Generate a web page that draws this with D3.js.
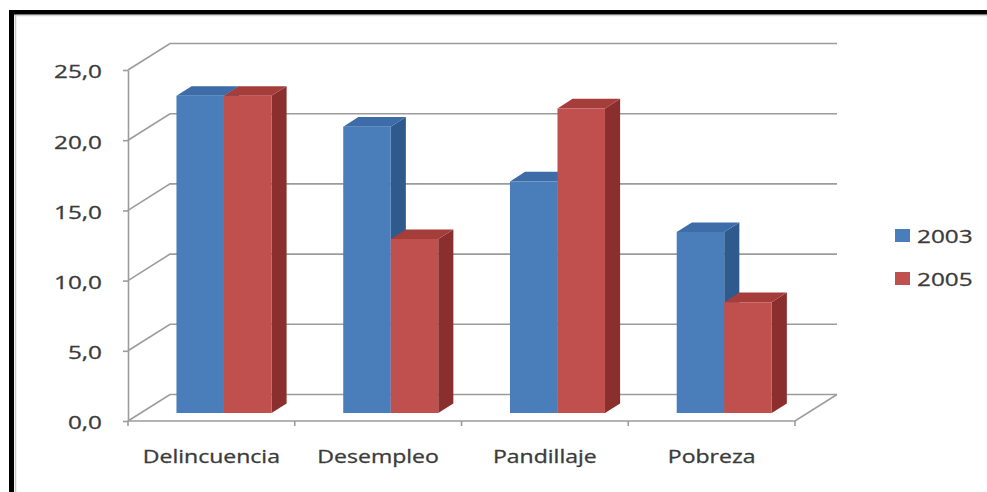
<!DOCTYPE html>
<html>
<head>
<meta charset="utf-8">
<script src="https://cdn.jsdelivr.net/npm/d3@7"></script>
<style>
  html, body { margin: 0; padding: 0; background: #fff; }
  svg { display: block; }
  text { font-family: "Open Sans", "Noto Sans", sans-serif; fill: #3b3b3b; stroke: #3b3b3b; stroke-width: 0.3px; }
</style>
</head>
<body>
<svg id="chart" width="987" height="492"></svg>
<script>
// Chart data
const categories = ["Delincuencia", "Desempleo", "Pandillaje", "Pobreza"];
const series = ["2003", "2005"];
const values2003 = [22.6, 20.4, 16.5, 12.9];
const values2005 = [22.6, 12.4, 21.7, 7.9];
const yTicks = [0, 5, 10, 15, 20, 25];

const seriesValues = { "2003": values2003, "2005": values2005 };
const colors = {
  "2003": { front: "#4a7ebb", side: "#2f5a8d", top: "#3d6ca8" },
  "2005": { front: "#c0504d", side: "#8a2f2d", top: "#a53d3a" }
};

const svg = d3.select("#chart");
const W = 987, H = 492;

// Front plane of the 3D box and its depth offset
const left = 128, right = 795, floorY = 421, topY = 70;
const depthDX = 42, depthDY = -26.5;
const barT0 = 0.3, barT1 = 0.66;  // bar depth span within the box
const stretch = 1.28;            // horizontal stretch of text

const y = d3.scaleLinear().domain([0, 25]).range([floorY, topY]);
const x = d3.scaleBand().domain(categories).range([left, right]).padding(0);
const xs = d3.scaleBand().domain(series).range([0, x.bandwidth()])
  .paddingInner(0).paddingOuter(0.755);

const P = (px, v, t) => [px + depthDX * t, y(v) + depthDY * t];
const fmt = d3.formatLocale({ decimal: ",", thousands: ".", grouping: [3], currency: ["", ""] }).format(".1f");

// Frame
svg.append("rect").attr("x", 0).attr("y", 0).attr("width", W).attr("height", H).attr("fill", "#fff");
svg.append("line").attr("x1", 14).attr("x2", W).attr("y1", 15.5).attr("y2", 15.5)
  .attr("stroke", "#d6d6d6").attr("stroke-width", 1.5);
svg.append("line").attr("x1", 15.5).attr("x2", 15.5).attr("y1", 14).attr("y2", H)
  .attr("stroke", "#c8c8c8").attr("stroke-width", 1.5);
svg.append("rect").attr("x", 9).attr("y", 10).attr("width", W - 9).attr("height", 4.5).attr("fill", "#000");
svg.append("rect").attr("x", 9).attr("y", 10).attr("width", 5).attr("height", H - 10).attr("fill", "#000");

const grid = svg.append("g").attr("stroke", "#9c9c9c").attr("stroke-width", 1.6).attr("fill", "none");

// Gridlines on back wall plus diagonals on side wall
yTicks.forEach(v => {
  const a = P(left, v, 0), b = P(left, v, 1), c = P(right, v, 1);
  grid.append("path").attr("d", d3.line()([a, b, c]));
});
// Floor edges
grid.append("path").attr("d", d3.line()([P(left, 0, 0), P(right, 0, 0), P(right, 0, 1)]));

// Value axis on the front plane
const yAxis = d3.axisLeft(y).tickValues(yTicks).tickFormat(fmt).tickSize(5).tickSizeOuter(0).tickPadding(0);
const ya = svg.append("g").attr("transform", `translate(${left},0)`).call(yAxis);
ya.select(".domain").attr("stroke", "#9c9c9c").attr("stroke-width", 1.6);
ya.selectAll(".tick line").attr("stroke", "#9c9c9c").attr("stroke-width", 1.6);
ya.selectAll(".tick text")
  .attr("x", 0).attr("dy", "0.36em")
  .attr("transform", `translate(-26,1) scale(${stretch},1)`)
  .style("font-size", "19px").style("fill", "#3b3b3b");

// Category tick marks
const catTicks = categories.map(c => x(c)).concat([right]);
svg.append("g").selectAll("line").data(catTicks).join("line")
  .attr("x1", d => d).attr("x2", d => d)
  .attr("y1", floorY).attr("y2", floorY + 5)
  .attr("stroke", "#9c9c9c").attr("stroke-width", 1.6);

// Category labels
svg.append("g").selectAll("text").data(categories).join("text")
  .attr("transform", c => `translate(${x(c) + x.bandwidth() / 2},463) scale(${stretch},1)`)
  .attr("text-anchor", "middle")
  .style("font-size", "18px")
  .text(c => c);

// 3D bars
const bars = svg.append("g");
categories.forEach((c, i) => {
  series.forEach(s => {
    const v = seriesValues[s][i];
    const x0 = x(c) + xs(s), x1 = x0 + xs.bandwidth();
    const col = colors[s];
    const g = bars.append("g");
    // side face
    g.append("path").attr("fill", col.side)
      .attr("d", d3.line()([P(x1, v, barT0), P(x1, v, barT1), P(x1, 0, barT1), P(x1, 0, barT0)]) + "Z");
    // top face
    g.append("path").attr("fill", col.top)
      .attr("d", d3.line()([P(x0, v, barT0), P(x1, v, barT0), P(x1, v, barT1), P(x0, v, barT1)]) + "Z");
    // front face
    g.append("path").attr("fill", col.front)
      .attr("d", d3.line()([P(x0, v, barT0), P(x1, v, barT0), P(x1, 0, barT0), P(x0, 0, barT0)]) + "Z");
  });
});

// Legend
const legend = svg.append("g").attr("transform", "translate(895,229)");
const ly = d3.scalePoint().domain(series).range([0, 43]);
series.forEach(s => {
  legend.append("rect").attr("x", 0).attr("y", ly(s)).attr("width", 15).attr("height", 13)
    .attr("fill", colors[s].front);
  legend.append("text")
    .attr("transform", `translate(22,${ly(s) + 13.5}) scale(${stretch},1)`)
    .style("font-size", "19px")
    .text(s);
});
</script>
</body>
</html>
